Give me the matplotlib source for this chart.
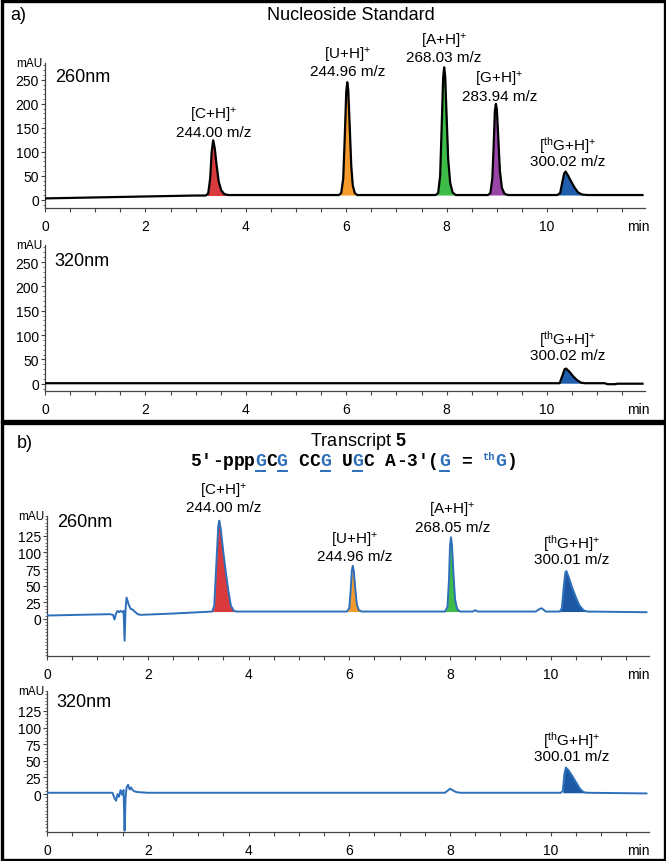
import matplotlib
matplotlib.use("Agg")
import matplotlib.pyplot as plt
from matplotlib.patches import Rectangle
from matplotlib.lines import Line2D
from matplotlib.ticker import MultipleLocator, FixedLocator

plt.rcParams['font.family'] = ['Liberation Sans', 'DejaVu Sans']
plt.rcParams['mathtext.fontset'] = 'custom'
plt.rcParams['mathtext.rm'] = 'Liberation Sans'
plt.rcParams['mathtext.bf'] = 'Liberation Sans:bold'
plt.rcParams['mathtext.it'] = 'Liberation Sans:italic'

# ---- data (time in min, absorbance in mAU) ----
xticks = [0, 2, 4, 6, 8, 10]
yticks_std = [0, 50, 100, 150, 200, 250]
yticks_tr = [0, 25, 50, 75, 100, 125]

# a) nucleoside standard, 260 nm
std260_t = [0, 1.0, 2.0, 3.0, 3.20, 3.25, 3.29, 3.32, 3.35, 3.38, 3.42, 3.46, 3.51, 3.57, 3.65,
            4.5, 5.5, 5.85, 5.90, 5.94, 5.97, 6.00, 6.02, 6.04, 6.07, 6.10, 6.13, 6.17, 6.22,
            7.0, 7.78, 7.83, 7.87, 7.90, 7.93, 7.95, 7.97, 8.00, 8.03, 8.07, 8.12, 8.18,
            8.82, 8.87, 8.91, 8.94, 8.96, 8.98, 9.00, 9.03, 9.06, 9.10, 9.15, 9.22,
            10.20, 10.26, 10.30, 10.34, 10.37, 10.42, 10.48, 10.55, 10.62, 10.70, 10.80, 11.9]
std260_y = [3, 5, 7, 9, 9, 13, 45, 100, 124, 108, 70, 38, 20, 12, 10,
            10, 10, 10, 14, 45, 130, 225, 245, 228, 150, 70, 30, 14, 10,
            10, 10, 14, 50, 150, 255, 276, 258, 170, 85, 35, 15, 10,
            10, 14, 45, 125, 185, 200, 188, 125, 60, 25, 13, 10,
            10, 14, 35, 55, 59, 50, 38, 25, 15, 11, 10, 10]

# a) nucleoside standard, 320 nm
std320_t = [0, 10.25, 10.30, 10.35, 10.38, 10.45, 10.52, 10.60, 10.68, 10.75,
            11.15, 11.20, 11.35, 11.40, 11.9]
std320_y = [1, 1, 15, 30, 31, 24, 15, 7, 2, 1, 1, -1, -1, 0, 0]

# b) transcript 5, 260 nm
tr260_t = [0, 0.6, 1.25, 1.31, 1.34, 1.37, 1.40, 1.43, 1.46, 1.50, 1.52, 1.54, 1.56, 1.58,
           1.62, 1.66, 1.70, 1.74, 1.80, 1.86, 2.5, 3.28, 3.32, 3.36, 3.40, 3.42, 3.45, 3.50,
           3.55, 3.60, 3.65, 3.70, 3.75, 5.0, 5.95, 6.00, 6.03, 6.05, 6.07, 6.09, 6.12, 6.15,
           6.19, 6.25, 7.90, 7.95, 7.98, 8.00, 8.02, 8.04, 8.07, 8.10, 8.14, 8.20, 8.45, 8.50,
           8.55, 9.70, 9.78, 9.82, 9.90, 10.18, 10.22, 10.26, 10.29, 10.31, 10.36, 10.42,
           10.50, 10.57, 10.65, 10.72, 11.9]
tr260_y = [5, 6, 7, 6, -1, 8, 12, 10, 12, 10, 12, -33, 15, 32,
           22, 15, 14, 11, 7, 6, 8, 11, 20, 80, 140, 148, 135, 100,
           70, 42, 20, 13, 11, 11, 11, 16, 45, 72, 80, 72, 45, 22,
           13, 11, 11, 18, 60, 110, 123, 110, 65, 30, 15, 11, 11, 13,
           11, 11, 15, 16, 11, 11, 16, 50, 70, 72, 62, 48,
           32, 20, 13, 11, 10]

# b) transcript 5, 320 nm
tr320_t = [0, 1.30, 1.34, 1.37, 1.40, 1.43, 1.46, 1.49, 1.52, 1.54, 1.56, 1.58, 1.61,
           1.64, 1.67, 1.70, 1.74, 1.80, 2.0, 7.90, 7.95, 8.00, 8.05, 8.12, 8.20, 10.20,
           10.24, 10.27, 10.30, 10.35, 10.42, 10.50, 10.58, 10.65, 10.72, 11.9]
tr320_y = [2, 2, -6, -10, 0, -4, 6, -1, 6, -55, -5, 10, 14,
           7, 10, 6, 4, 3, 2, 2, 5, 8, 6, 3, 2, 2,
           5, 30, 40, 36, 28, 18, 8, 3, 2, 1]

# peak windows to colour: (start, end, colour)
std260_fill = [(3.20, 3.65, '#d93a3e'), (5.85, 6.22, '#f59a2c'), (7.78, 8.18, '#3dbd48'),
               (8.82, 9.22, '#9a45a8'), (10.20, 10.80, '#1f5fae')]
std320_fill = [(10.25, 10.75, '#1f5fae')]
tr260_fill = [(3.28, 3.75, '#d93a3e'), (5.95, 6.25, '#f59a2c'), (7.90, 8.20, '#3dbd48'),
              (10.18, 10.72, '#1d58a5')]
tr320_fill = [(10.24, 10.72, '#1d58a5')]

# peak labels: (line1, line2, t, y of line2)
std260_labels = [('[C+H]$^{+}$', '244.00 m/z', 3.35, 142),
                 ('[U+H]$^{+}$', '244.96 m/z', 6.02, 268),
                 ('[A+H]$^{+}$', '268.03 m/z', 7.95, 297),
                 ('[G+H]$^{+}$', '283.94 m/z', 9.05, 217),
                 ('[$^{\\rm th}$G+H]$^{+}$', '300.02 m/z', 10.42, 80)]
std320_labels = [('[$^{\\rm th}$G+H]$^{+}$', '300.02 m/z', 10.42, 58)]
tr260_labels = [('[C+H]$^{+}$', '244.00 m/z', 3.50, 169),
                ('[U+H]$^{+}$', '244.96 m/z', 6.10, 95),
                ('[A+H]$^{+}$', '268.05 m/z', 8.05, 139),
                ('[$^{\\rm th}$G+H]$^{+}$', '300.01 m/z', 10.42, 90)]
tr320_labels = [('[$^{\\rm th}$G+H]$^{+}$', '300.01 m/z', 10.42, 57)]

W, H = 666, 862
fig = plt.figure(figsize=(W / 100, H / 100), dpi=100)


def panel(left, right, top, bottom, ylim, yticks, yminor, t, y, fills, labels,
          color, lw, nm, nm_off):
    ax = fig.add_axes([left / W, 1 - bottom / H, (right - left) / W, (bottom - top) / H])
    ax.set_xlim(0, 11.95)
    ax.set_ylim(*ylim)
    for s in ['top', 'right']:
        ax.spines[s].set_visible(False)
    for s in ['left', 'bottom']:
        ax.spines[s].set_color('#444444')
        ax.spines[s].set_linewidth(0.9)
    ax.xaxis.set_major_locator(FixedLocator(xticks))
    ax.xaxis.set_minor_locator(MultipleLocator(0.5))
    ax.yaxis.set_major_locator(FixedLocator(yticks))
    ax.yaxis.set_minor_locator(MultipleLocator(yminor))
    ax.tick_params(axis='x', which='both', direction='out', length=3, width=0.8,
                   color='#444444', pad=5, labelsize=10)
    ax.tick_params(axis='y', which='major', direction='out', length=3, width=0.8,
                   color='#444444', pad=1.5, labelsize=10)
    ax.tick_params(axis='y', which='minor', direction='out', length=1.8, width=0.6,
                   color='#555555')
    ax.patch.set_alpha(0)

    for a, b, c in fills:
        mask = [a <= ti <= b for ti in t]
        base = min(y[i] for i in range(len(t)) if mask[i])
        ax.fill_between(t, y, base, where=mask, color=c, lw=0)
    ax.plot(t, y, color=color, lw=lw, solid_joinstyle='round', zorder=3)

    for l1, l2, tt, yy in labels:
        ax.text(tt, yy, l2, ha='center', va='center', fontsize=11)
        ax.annotate(l1, xy=(tt, yy), xytext=(0, 12), textcoords='offset points',
                    ha='center', va='center', fontsize=11, annotation_clip=False)

    ax.annotate('mAU', xy=(0, 1), xycoords='axes fraction', xytext=(-2, 0),
                textcoords='offset points', ha='right', va='center', fontsize=8.5)
    ax.annotate('min', xy=((638 - left) / (right - left), 0), xycoords='axes fraction',
                xytext=(0, -8), textcoords='offset points', ha='center', va='top',
                fontsize=10)
    ax.annotate(nm, xy=(0, 1), xycoords='axes fraction', xytext=(7, -nm_off),
                textcoords='offset points', ha='left', va='center', fontsize=13)
    return ax


panel(45, 645, 64, 209, (-17, 285), yticks_std, 10, std260_t, std260_y,
      std260_fill, std260_labels, 'black', 1.6, '260nm', 9.5)
panel(45, 645, 246, 392, (-15, 285), yticks_std, 10, std320_t, std320_y,
      std320_fill, std320_labels, 'black', 1.6, '320nm', 11)
panel(47, 649, 517, 657, (-56, 155), yticks_tr, 5, tr260_t, tr260_y,
      tr260_fill, tr260_labels, '#2e6fba', 1.4, '260nm', 4)
panel(47, 649, 692, 833, (-57, 155), yticks_tr, 5, tr320_t, tr320_y,
      tr320_fill, tr320_labels, '#2e6fba', 1.4, '320nm', 7.5)

# panel frames
for x0, y0, x1, y1 in [(1.5, 1.5, 664.5, 421.5), (1.5, 423.5, 664.5, 860.5)]:
    fig.add_artist(Rectangle((x0 / W, 1 - y1 / H), (x1 - x0) / W, (y1 - y0) / H,
                             transform=fig.transFigure, fill=False, lw=2.4,
                             edgecolor='black'))

fig.text(10 / W, 1 - 16 / H, 'a)', fontsize=13, ha='left', va='center')
fig.text(351 / W, 1 - 15 / H, 'Nucleoside Standard', fontsize=13, ha='center',
         va='center')
fig.text(17 / W, 1 - 444 / H, 'b)', fontsize=13, ha='left', va='center')
fig.text(358 / W, 1 - 442 / H, 'Transcript $\\mathbf{5}$', fontsize=13,
         ha='center', va='center')

# sequence line, monospaced, modified G in blue and underlined
seq = "5'-pppGCG CCG UGC A-3'(G = "
blue_idx = [6, 8, 12, 15, 23]
blue = '#2e6fba'
fs = 13
cw = 0.6 * fs * 100 / 72
x0, yc = 190, 462
for i, ch in enumerate(seq):
    col = blue if i in blue_idx else 'black'
    fig.text((x0 + i * cw) / W, 1 - yc / H, ch, family='Liberation Mono',
             weight='bold', fontsize=fs, color=col, ha='left', va='center')
    if i in blue_idx:
        fig.add_artist(Line2D([(x0 + i * cw + 1) / W, (x0 + (i + 1) * cw - 1) / W],
                              [1 - (yc + 10) / H] * 2, transform=fig.transFigure,
                              color=blue, lw=1.4))
n = len(seq)
fig.text((x0 + n * cw) / W, 1 - (yc - 5) / H, 'th', family='Liberation Mono',
         weight='bold', fontsize=7.5, color=blue, ha='left', va='center')
fig.text((x0 + (n + 1.2) * cw) / W, 1 - yc / H, 'G', family='Liberation Mono',
         weight='bold', fontsize=fs, color=blue, ha='left', va='center')
fig.text((x0 + (n + 2.2) * cw) / W, 1 - yc / H, ')', family='Liberation Mono',
         weight='bold', fontsize=fs, color='black', ha='left', va='center')

fig.savefig('out.png', dpi=100)
